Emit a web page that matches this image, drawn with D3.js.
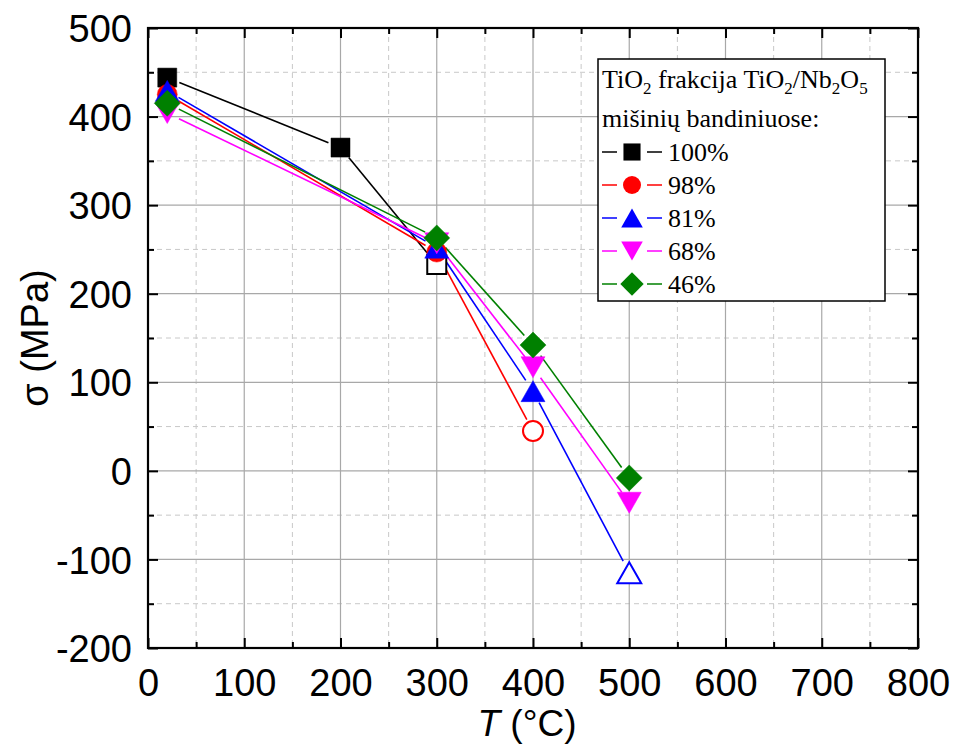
<!DOCTYPE html>
<html><head><meta charset="utf-8">
<script src="https://cdn.jsdelivr.net/npm/d3@7"></script>
<style>body{margin:0;background:#fff}svg{display:block}</style>
</head><body>
<svg id="c" width="957" height="748"></svg>
<script>
// ---- data ----
const seriesNames = ["100%", "98%", "81%", "68%", "46%"];
const seriesColors = ["#000000", "#ff0000", "#0000ff", "#ff00ff", "#008000"];
const seriesShapes = ["square", "circle", "triangle", "triangleDown", "diamond"];
const t100 = [20, 200, 300], s100 = [444, 365, 233], open100 = [0, 0, 1];
const t98 = [20, 300, 400], s98 = [425, 247, 45], open98 = [0, 0, 1];
const t81 = [20, 300, 400, 500], s81 = [429, 252, 90, -115], open81 = [0, 0, 0, 1];
const t68 = [20, 300, 400, 500], s68 = [404, 257, 117, -36], open68 = [0, 0, 0, 0];
const t46 = [20, 300, 400, 500], s46 = [415, 263, 142, -8], open46 = [0, 0, 0, 0];
const xTicks = [0, 100, 200, 300, 400, 500, 600, 700, 800];
const yTicks = [-200, -100, 0, 100, 200, 300, 400, 500];

const seriesT = [t100, t98, t81, t68, t46];
const seriesS = [s100, s98, s81, s68, s46];
const seriesOpen = [open100, open98, open81, open68, open46];

const svg = d3.select("#c");
const L = 148, R = 918, T = 28, B = 648;
const x = d3.scaleLinear().domain([0, 800]).range([L, R]);
const y = d3.scaleLinear().domain([-200, 500]).range([B, T]);
const fmt = d => String(d); // plain hyphen-minus like the reference

// grid
const g = svg.append("g");
const minorX = d3.range(50, 800, 100), minorY = d3.range(-150, 500, 100);
g.selectAll(".mx").data(minorX).enter().append("line")
  .attr("x1", d => x(d)).attr("x2", d => x(d)).attr("y1", T).attr("y2", B)
  .attr("stroke", "#c8c8c8").attr("stroke-width", 1).attr("stroke-dasharray", "5,4");
g.selectAll(".my").data(minorY).enter().append("line")
  .attr("y1", d => y(d)).attr("y2", d => y(d)).attr("x1", L).attr("x2", R)
  .attr("stroke", "#c8c8c8").attr("stroke-width", 1).attr("stroke-dasharray", "5,4");
g.selectAll(".Mx").data(xTicks.slice(1, -1)).enter().append("line")
  .attr("x1", d => x(d)).attr("x2", d => x(d)).attr("y1", T).attr("y2", B)
  .attr("stroke", "#a8a8a8").attr("stroke-width", 1.2);
g.selectAll(".My").data(yTicks.slice(1, -1)).enter().append("line")
  .attr("y1", d => y(d)).attr("y2", d => y(d)).attr("x1", L).attr("x2", R)
  .attr("stroke", "#a8a8a8").attr("stroke-width", 1.2);

// axes (inward ticks) using d3 axes
const font = "'Liberation Sans', Arial, sans-serif";
function styleAxis(sel) {
  sel.select(".domain").remove();
  sel.selectAll("line").attr("stroke", "#000").attr("stroke-width", 2);
}
const axB = svg.append("g").attr("transform", `translate(0,${B})`)
  .call(d3.axisBottom(x).tickValues(xTicks).tickSize(-10).tickPadding(21).tickFormat(fmt));
styleAxis(axB);
axB.selectAll("text").attr("font-family", font).attr("font-size", 38).attr("fill", "#000").attr("dy", "0.71em");
const axBm = svg.append("g").attr("transform", `translate(0,${B})`)
  .call(d3.axisBottom(x).tickValues(minorX).tickSize(-6).tickFormat(""));
styleAxis(axBm);

const axL = svg.append("g").attr("transform", `translate(${L},0)`)
  .call(d3.axisLeft(y).tickValues(yTicks).tickSize(-10).tickPadding(16).tickFormat(fmt));
styleAxis(axL);
axL.selectAll("text").attr("font-family", font).attr("font-size", 38).attr("fill", "#000").attr("dy", "0.36em");
const axLm = svg.append("g").attr("transform", `translate(${L},0)`)
  .call(d3.axisLeft(y).tickValues(minorY).tickSize(-6).tickFormat(""));
styleAxis(axLm);

const axT = svg.append("g").attr("transform", `translate(0,${T})`)
  .call(d3.axisTop(x).tickValues(xTicks).tickSize(-10).tickFormat(""));
styleAxis(axT);
const axTm = svg.append("g").attr("transform", `translate(0,${T})`)
  .call(d3.axisTop(x).tickValues(minorX).tickSize(-6).tickFormat(""));
styleAxis(axTm);
const axR = svg.append("g").attr("transform", `translate(${R},0)`)
  .call(d3.axisRight(y).tickValues(yTicks).tickSize(-10).tickFormat(""));
styleAxis(axR);
const axRm = svg.append("g").attr("transform", `translate(${R},0)`)
  .call(d3.axisRight(y).tickValues(minorY).tickSize(-6).tickFormat(""));
styleAxis(axRm);

svg.append("rect").attr("x", L).attr("y", T).attr("width", R - L).attr("height", B - T)
  .attr("fill", "none").attr("stroke", "#000").attr("stroke-width", 2.2);

// axis titles
svg.append("text").attr("transform", `translate(48,${(T + B) / 2}) rotate(-90)`)
  .attr("text-anchor", "middle").attr("font-family", font).attr("font-size", 38).text("σ (MPa)");
const xt = svg.append("text").attr("x", (L + R) / 2 - 6).attr("y", 736)
  .attr("text-anchor", "middle").attr("font-family", font).attr("font-size", 37);
xt.append("tspan").attr("font-style", "italic").text("T");
xt.append("tspan").text(" (°C)");

// marker path generator
function shapePath(shape, s) {
  switch (shape) {
    case "square": { const h = 9.5 * s; return `M${-h},${-h}H${h}V${h}H${-h}Z`; }
    case "circle": { const r = 10 * s; return `M${r},0A${r},${r} 0 1,1 ${-r},0A${r},${r} 0 1,1 ${r},0Z`; }
    case "triangle": { const w = 12 * s, h = 10.5 * s; return `M0,${-h}L${w},${h}L${-w},${h}Z`; }
    case "triangleDown": { const w = 12 * s, h = 10.5 * s; return `M0,${h}L${w},${-h}L${-w},${-h}Z`; }
    case "diamond": { const r = 13 * s; return `M0,${-r}L${r},0L0,${r}L${-r},0Z`; }
  }
}

// lines with gaps near markers
const gap = 13;
seriesNames.forEach((name, i) => {
  const pts = seriesT[i].map((t, j) => [x(t), y(seriesS[i][j])]);
  const segs = d3.pairs(pts).map(([a, b]) => {
    const dx = b[0] - a[0], dy = b[1] - a[1], len = Math.hypot(dx, dy);
    const ux = dx / len, uy = dy / len;
    return [a[0] + ux * gap, a[1] + uy * gap, b[0] - ux * gap, b[1] - uy * gap];
  });
  svg.append("g").selectAll("line").data(segs).enter().append("line")
    .attr("x1", d => d[0]).attr("y1", d => d[1]).attr("x2", d => d[2]).attr("y2", d => d[3])
    .attr("stroke", seriesColors[i]).attr("stroke-width", 1.6);
});
// markers (later series drawn on top)
seriesNames.forEach((name, i) => {
  svg.append("g").selectAll("path").data(seriesT[i].map((t, j) => ({ t, s: seriesS[i][j], o: seriesOpen[i][j] })))
    .enter().append("path")
    .attr("transform", d => `translate(${x(d.t)},${y(d.s)})`)
    .attr("d", shapePath(seriesShapes[i], 1))
    .attr("fill", d => d.o ? "#fff" : seriesColors[i])
    .attr("stroke", seriesColors[i]).attr("stroke-width", d => d.o ? 2 : 0.5);
});

// legend
const serif = "'Liberation Serif', 'Times New Roman', serif";
const lg = svg.append("g");
lg.append("rect").attr("x", 598).attr("y", 59).attr("width", 287).attr("height", 242)
  .attr("fill", "#fff").attr("stroke", "#000").attr("stroke-width", 1.5);
const t1 = lg.append("text").attr("x", 602).attr("y", 88).attr("font-family", serif).attr("font-size", 26);
t1.append("tspan").text("TiO");
t1.append("tspan").attr("font-size", 17).attr("dy", 6).text("2");
t1.append("tspan").attr("dy", -6).text(" frakcija TiO");
t1.append("tspan").attr("font-size", 17).attr("dy", 6).text("2");
t1.append("tspan").attr("dy", -6).text("/Nb");
t1.append("tspan").attr("font-size", 17).attr("dy", 6).text("2");
t1.append("tspan").attr("dy", -6).text("O");
t1.append("tspan").attr("font-size", 17).attr("dy", 6).text("5");
lg.append("text").attr("x", 602).attr("y", 127).attr("font-family", serif).attr("font-size", 26).text("mišinių bandiniuose:");
const rowY = d3.scaleLinear().domain([0, 4]).range([152, 284]);
seriesNames.forEach((name, i) => {
  const yy = rowY(i);
  lg.append("line").attr("x1", 602).attr("x2", 662).attr("y1", yy).attr("y2", yy)
    .attr("stroke", seriesColors[i]).attr("stroke-width", 1.6);
  lg.append("rect").attr("x", 617).attr("y", yy - 10).attr("width", 30).attr("height", 20).attr("fill", "#fff");
  lg.append("path").attr("transform", `translate(632,${yy})`).attr("d", shapePath(seriesShapes[i], 0.9))
    .attr("fill", seriesColors[i]);
  lg.append("text").attr("x", 668).attr("y", yy + 9).attr("font-family", serif).attr("font-size", 26).text(name);
});
</script>
</body></html>
